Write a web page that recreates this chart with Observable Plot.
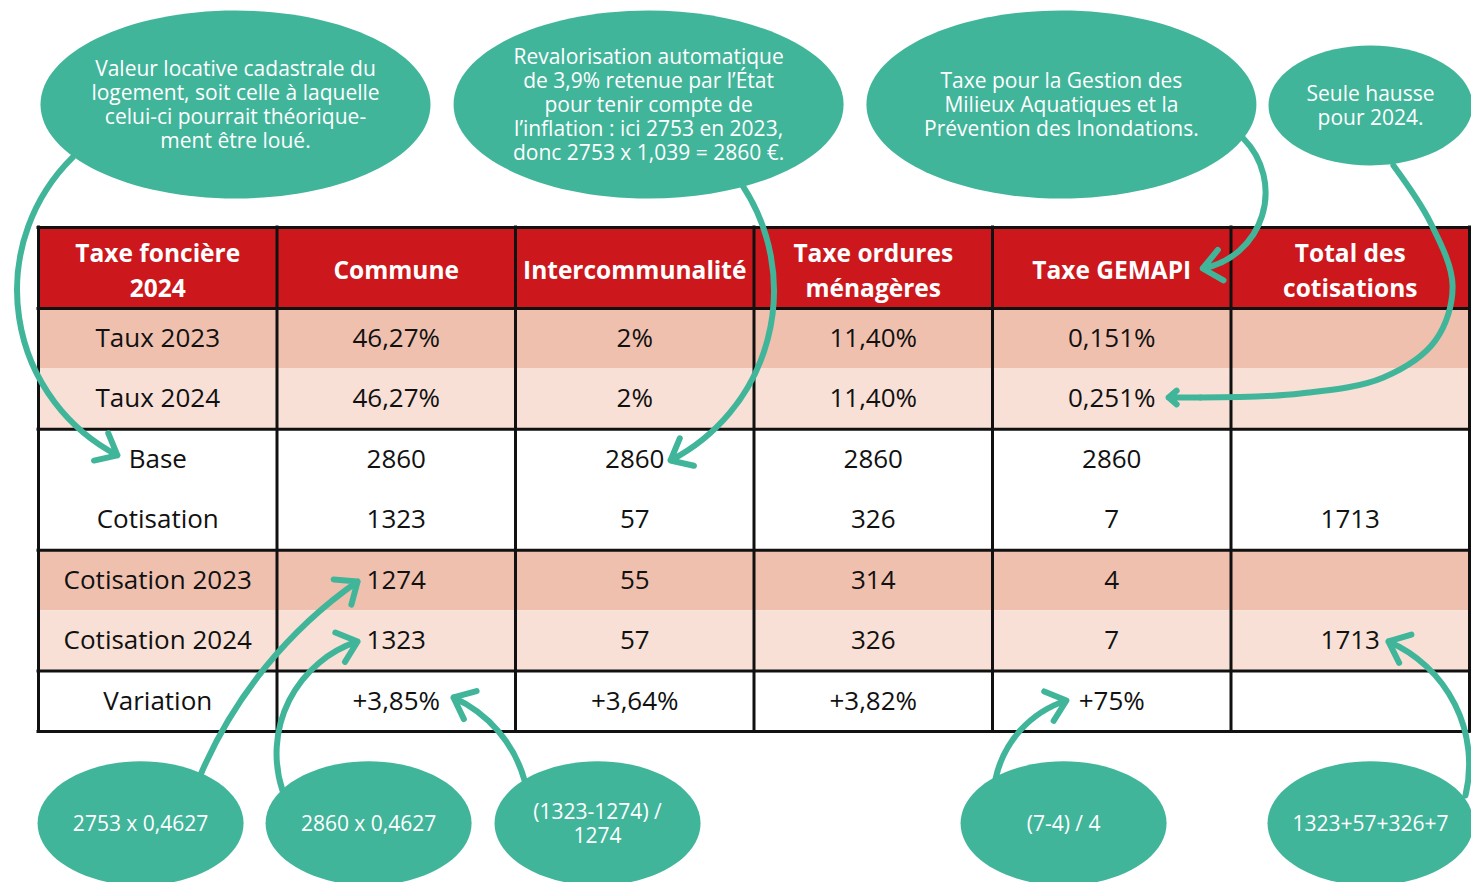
<!DOCTYPE html>
<html><head><meta charset="utf-8">
<script src="https://cdn.jsdelivr.net/npm/d3@7"></script>
<script src="https://cdn.jsdelivr.net/npm/@observablehq/plot@0.6"></script>
<style>html,body{margin:0;padding:0;background:#fff;} svg{display:block}</style>
</head><body><div id="chart"></div>
<script>
// ---------- DATA ----------
const columns = ["Taxe foncière\n2024", "Commune", "Intercommunalité", "Taxe ordures\nménagères", "Taxe GEMAPI", "Total des\ncotisations"];
const rowLabels = ["Taux 2023", "Taux 2024", "Base", "Cotisation", "Cotisation 2023", "Cotisation 2024", "Variation"];
const commune = ["46,27%", "46,27%", "2860", "1323", "1274", "1323", "+3,85%"];
const interco = ["2%", "2%", "2860", "57", "55", "57", "+3,64%"];
const ordures = ["11,40%", "11,40%", "2860", "326", "314", "326", "+3,82%"];
const gemapi = ["0,151%", "0,251%", "2860", "7", "4", "7", "+75%"];
const total = ["", "", "", "1713", "", "1713", ""];

const notesTop = [
  "Valeur locative cadastrale du\nlogement, soit celle à laquelle\ncelui-ci pourrait théorique-\nment être loué.",
  "Revalorisation automatique\nde 3,9% retenue par l’État\npour tenir compte de\nl’inflation : ici 2753 en 2023,\ndonc 2753 x 1,039 = 2860 €.",
  "Taxe pour la Gestion des\nMilieux Aquatiques et la\nPrévention des Inondations.",
  "Seule hausse\npour 2024."
];
const notesBottom = ["2753 x 0,4627", "2860 x 0,4627", "(1323-1274) /\n1274", "(7-4) / 4", "1323+57+326+7"];

// ---------- LAYOUT / STYLE ----------
const RED = "#CC171C", DARK = "#F0C0AE", LIGHT = "#F8E0D6", GREEN = "#41B59A";
const FONT = "'Open Sans', Carlito, Calibri, Lato, sans-serif";
const HEADER = 1.34;                       // header height in row units
const rowFill = [DARK, LIGHT, "#ffffff", "#ffffff", DARK, LIGHT, "#ffffff"];
const hLines = [-HEADER, 0, 2, 4, 6, 7];
// annotation anchors in table units (column, row)
const topPos = [
  {x: 0.826, y: -3.376, big: true},
  {x: 2.558, y: -3.376, big: true},
  {x: 4.289, y: -3.376, big: true},
  {x: 5.585, y: -3.36, big: false}
];
const bottomPos = [0.428, 1.384, 2.344, 4.298, 5.585].map(x => ({x, y: 8.52}));
const arrows = [
  {x1: 0.143, y1: -2.50, x2: 0.331, y2: 2.43, bend: -54},
  {x1: 2.952, y1: -2.035, x2: 2.650, y2: 2.515, bend: 48},
  {x1: 5.052, y1: -2.813, x2: 4.881, y2: -0.662, bend: 62},
  {x1: 0.679, y1: 7.72, x2: 1.338, y2: 4.518, bend: 16},
  {x1: 1.023, y1: 7.976, x2: 1.338, y2: 5.51, bend: 45},
  {x1: 2.038, y1: 7.81, x2: 1.740, y2: 6.437, bend: -25},
  {x1: 4.013, y1: 7.78, x2: 4.310, y2: 6.487, bend: 30},
  {x1: 5.983, y1: 8.06, x2: 5.660, y2: 5.51, bend: -40}
];
// the long GEMAPI-rate arrow follows a free curve
const curvedPath = [
  [5.681, -2.366], [5.836, -1.423], [5.929, -0.381], [5.857, 0.530],
  [5.639, 1.142], [5.291, 1.407], [4.872, 1.473]
].map(([x, y]) => ({x, y}));
const curvedHead = {x1: 4.872, y1: 1.473, x2: 4.738, y2: 1.473};

function ellipseSymbol(k) {
  const K = 0.5522847;
  return {
    draw(ctx, size) {
      const ry = Math.sqrt(size / Math.PI), rx = ry * k;
      ctx.moveTo(rx, 0);
      ctx.bezierCurveTo(rx, ry * K, rx * K, ry, 0, ry);
      ctx.bezierCurveTo(-rx * K, ry, -rx, ry * K, -rx, 0);
      ctx.bezierCurveTo(-rx, -ry * K, -rx * K, -ry, 0, -ry);
      ctx.bezierCurveTo(rx * K, -ry, rx, -ry * K, rx, 0);
      ctx.closePath();
    }
  };
}

// ---------- BUILD ----------
const series = [rowLabels, commune, interco, ordures, gemapi, total];
const cells = [];
series.forEach((col, c) => col.forEach((v, r) => cells.push({c, r, v})));
const heads = columns.map((t, c) => ({c, t}));
const rows = rowLabels.map((t, r) => ({r}));
const topNotes = notesTop.map((t, i) => ({...topPos[i], t}));
const bottomNotes = notesBottom.map((t, i) => ({...bottomPos[i], t}));
const arrowStyle = {stroke: GREEN, strokeWidth: 6, headLength: 6, headAngle: 80};

const chart = Plot.plot({
  width: 1471,
  height: 882,
  margin: 0,
  style: {fontFamily: FONT, background: "#fff"},
  x: {type: "linear", domain: [0, 6], range: [38, 1469], axis: null},
  y: {type: "linear", domain: [0, 7], range: [308, 731], axis: null},
  color: {type: "identity"},
  marks: [
    Plot.rect(rows, {x1: 0, x2: 6, y1: d => d.r, y2: d => d.r + 1, fill: d => rowFill[d.r]}),
    Plot.rect(heads, {x1: d => d.c, x2: d => d.c + 1, y1: -HEADER, y2: 0, fill: RED}),
    Plot.ruleX(d3.range(columns.length + 1), {y1: -HEADER, y2: 7, stroke: "#111", strokeWidth: 3, strokeLinecap: "square"}),
    Plot.ruleY(hLines, {x1: 0, x2: 6, stroke: "#111", strokeWidth: 3, strokeLinecap: "square"}),
    Plot.text(heads, {x: d => d.c + 0.5, y: -HEADER / 2, text: "t", fill: "#fff", fontWeight: "bold", fontSize: 24.5, lineHeight: 1.42}),
    Plot.text(cells, {x: d => d.c + 0.5, y: d => d.r + 0.5, text: "v", fill: "#111", fontSize: 26}),
    ...arrows.map(a => Plot.arrow([a], {x1: "x1", y1: "y1", x2: "x2", y2: "y2", bend: a.bend, ...arrowStyle})),
    Plot.line(curvedPath, {x: "x", y: "y", curve: "catmull-rom", stroke: GREEN, strokeWidth: 6}),
    Plot.arrow([curvedHead], {x1: "x1", y1: "y1", x2: "x2", y2: "y2", ...arrowStyle}),
    Plot.dot(topNotes.filter(d => d.big), {x: "x", y: "y", r: 94, symbol: ellipseSymbol(195 / 94), fill: GREEN, stroke: null}),
    Plot.dot(topNotes.filter(d => !d.big), {x: "x", y: "y", r: 60, symbol: ellipseSymbol(102 / 60), fill: GREEN, stroke: null}),
    Plot.dot(bottomNotes, {x: "x", y: "y", r: 62, symbol: ellipseSymbol(103 / 62), fill: GREEN, stroke: null}),
    Plot.text(topNotes, {x: "x", y: "y", text: "t", fill: "#fff", fontSize: 21, lineHeight: 1.143}),
    Plot.text(bottomNotes, {x: "x", y: "y", text: "t", fill: "#fff", fontSize: 21, lineHeight: 1.143})
  ]
});
document.getElementById("chart").appendChild(chart);
</script>
</body></html>
